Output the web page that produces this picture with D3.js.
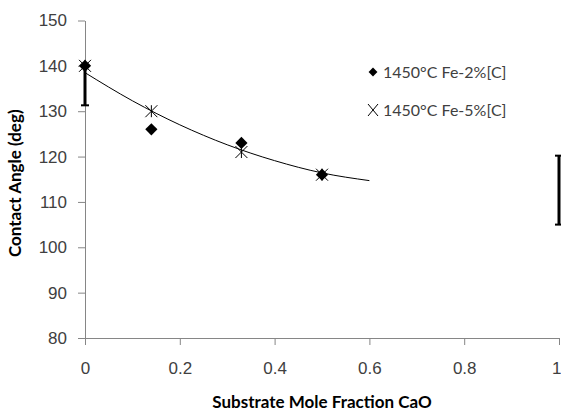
<!DOCTYPE html>
<html>
<head>
<meta charset="utf-8">
<script src="https://cdn.jsdelivr.net/npm/d3@7"></script>
<style>
  body { margin: 0; background: #fff; }
  svg { display: block; font-family: Lato, "Open Sans", sans-serif; }
</style>
</head>
<body>
<svg id="chart"></svg>
<script>
// substrate mole fraction CaO
const xFe2 = [0, 0.14, 0.33, 0.5];
const yFe2 = [140, 126, 123, 116];
const xFe5 = [0, 0.14, 0.33, 0.5];
const yFe5 = [140, 130, 121, 116];

// trend line
const trendX = [0, 0.1, 0.2, 0.3, 0.4, 0.5, 0.6];
const trendY = [138.5, 132.3, 127.0, 122.6, 119.1, 116.4, 114.7];

// error bars: x, low, high
const errX = [0, 1];
const errLow = [131.3, 105];
const errHigh = [140, 120.2];

const xTicks = [0, 0.2, 0.4, 0.6, 0.8, 1];
const yTicks = [80, 90, 100, 110, 120, 130, 140, 150];
const seriesNames = ["1450°C Fe-2%[C]", "1450°C Fe-5%[C]"];

const svg = d3.select("#chart")
  .attr("width", 561)
  .attr("height", 411);

const margin = { top: 20.5, left: 85, right: 2, bottom: 73 };
const width = 561 - margin.left - margin.right;
const height = 411 - margin.top - margin.bottom;

const x = d3.scaleLinear().domain([0, 1]).range([0, 474]);
const y = d3.scaleLinear().domain([80, 150]).range([height, 0]);

const g = svg.append("g")
  .attr("transform", `translate(${margin.left},${margin.top})`);

const axisColor = "#868686";
const textColor = "#404040";

// x axis
const xAxis = g.append("g")
  .attr("transform", `translate(0,${height})`)
  .call(d3.axisBottom(x).tickValues(xTicks).tickSize(7).tickSizeOuter(0)
    .tickFormat(d => d3.format("")(d)));
xAxis.select(".domain").attr("stroke", axisColor);
xAxis.selectAll(".tick line").attr("stroke", axisColor);
xAxis.selectAll("text")
  .attr("fill", textColor)
  .attr("y", 24)
  .style("font-size", "17px");
// last label sits at the window edge, keep it inside
xAxis.selectAll("text")
  .filter(d => d === 1)
  .attr("text-anchor", "end")
  .attr("x", 2);

// y axis
const yAxis = g.append("g")
  .call(d3.axisLeft(y).tickValues(yTicks).tickSize(7).tickSizeOuter(0));
yAxis.select(".domain").attr("stroke", axisColor);
yAxis.selectAll(".tick line").attr("stroke", axisColor);
yAxis.selectAll("text")
  .attr("fill", textColor)
  .attr("x", -18)
  .style("font-size", "17px");

// trend line
g.append("path")
  .datum(trendX.map((d, i) => [d, trendY[i]]))
  .attr("fill", "none")
  .attr("stroke", "#000")
  .attr("stroke-width", 1)
  .attr("d", d3.line().x(d => x(d[0])).y(d => y(d[1])).curve(d3.curveMonotoneX));

// error bars
errX.forEach((ex, i) => {
  const cx = x(ex);
  g.append("line")
    .attr("x1", cx).attr("x2", cx)
    .attr("y1", y(errLow[i])).attr("y2", y(errHigh[i]))
    .attr("stroke", "#000").attr("stroke-width", 3);
  [errLow[i], errHigh[i]].forEach(v => {
    g.append("line")
      .attr("x1", cx - 4).attr("x2", cx + 4)
      .attr("y1", y(v)).attr("y2", y(v))
      .attr("stroke", "#000").attr("stroke-width", 2);
  });
});

// markers
const diamond = d3.symbol().type(d3.symbolDiamond2).size(95);

function star(sel, s) {
  sel.append("path")
    .attr("d", `M${-s},${-s}L${s},${s}M${-s},${s}L${s},${-s}M0,${-s}L0,${s}`)
    .attr("stroke", "#000")
    .attr("stroke-width", 1)
    .attr("fill", "none");
}

g.selectAll(".fe2")
  .data(xFe2.map((d, i) => [d, yFe2[i]]))
  .enter()
  .append("path")
  .attr("class", "fe2")
  .attr("transform", d => `translate(${x(d[0])},${y(d[1])})`)
  .attr("d", diamond)
  .attr("fill", "#000");

xFe5.forEach((d, i) => {
  const m = g.append("g")
    .attr("transform", `translate(${x(d)},${y(yFe5[i])})`);
  star(m, 6);
});

// legend
const legend = svg.append("g");
legend.append("path")
  .attr("transform", "translate(373,72)")
  .attr("d", d3.symbol().type(d3.symbolDiamond2).size(50))
  .attr("fill", "#000");
legend.append("text")
  .attr("x", 383).attr("y", 72)
  .attr("dy", "0.35em")
  .attr("fill", textColor)
  .style("font-size", "16px")
  .text(seriesNames[0]);
const lm = legend.append("g").attr("transform", "translate(373,110)");
lm.append("path")
  .attr("d", "M-5,-6L5,6M-5,6L5,-6")
  .attr("stroke", "#000").attr("fill", "none");
legend.append("text")
  .attr("x", 383).attr("y", 110)
  .attr("dy", "0.35em")
  .attr("fill", textColor)
  .style("font-size", "16px")
  .text(seriesNames[1]);

// axis titles
svg.append("text")
  .attr("x", margin.left + x(0.5))
  .attr("y", 408)
  .attr("text-anchor", "middle")
  .attr("fill", "#000")
  .style("font-size", "17px")
  .style("font-weight", "bold")
  .text("Substrate Mole Fraction CaO");

svg.append("text")
  .attr("transform", `translate(21,${margin.top + height / 2 + 4}) rotate(-90)`)
  .attr("text-anchor", "middle")
  .attr("fill", "#000")
  .style("font-size", "17px")
  .style("font-weight", "bold")
  .text("Contact Angle (deg)");
</script>
</body>
</html>
